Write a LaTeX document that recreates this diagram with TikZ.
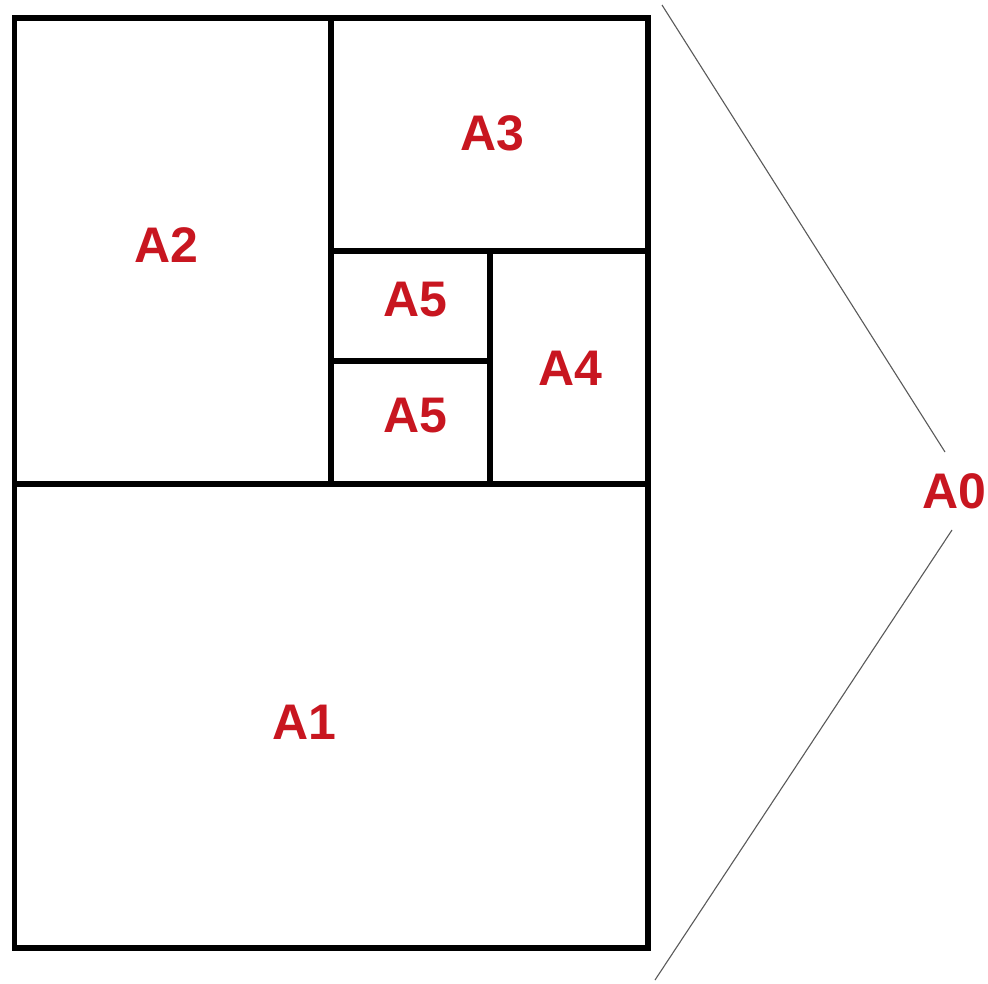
\documentclass[tikz,border=0pt]{standalone}
\usepackage{fontspec}
\setmainfont{Liberation Sans}
\definecolor{lblred}{RGB}{200,22,32}
\definecolor{thin}{RGB}{90,90,90}
\begin{document}
\begin{tikzpicture}[x=1pt,y=-1pt,
  frame/.style={line width=5.5pt,draw=black,line cap=rect},
  lbl/.style={text=lblred,font=\fontsize{50}{50}\selectfont\bfseries,inner sep=0pt},
  brace/.style={draw=thin,line width=1.1pt}]
\useasboundingbox[fill=white] (0,0) rectangle (988,984);
% sheet outline and cuts
\draw[frame] (14.5,18) rectangle (648,948);
\draw[frame] (14.5,484) -- (648,484);
\draw[frame] (331,18) -- (331,484);
\draw[frame] (331,251) -- (648,251);
\draw[frame] (490,251) -- (490,484);
\draw[frame] (331,361) -- (490,361);
% labels
\node[lbl] (a1) at (304,722) {A1};
\node[lbl] (a2) at (166,245) {A2};
\node[lbl] (a3) at (492,133) {A3};
\node[lbl] (a4) at (570,368) {A4};
\node[lbl] (a5t) at (415,300) {A5};
\node[lbl] (a5b) at (415,416) {A5};
\node[lbl] (a0) at (954,491) {A0};
% bracket lines
\coordinate (ttop) at (662,5);
\coordinate (tbot) at (945,452);
\coordinate (btop) at (952,530);
\coordinate (bbot) at (655,980);
\draw[brace] (ttop) -- (tbot);
\draw[brace] (btop) -- (bbot);
\end{tikzpicture}
\end{document}
